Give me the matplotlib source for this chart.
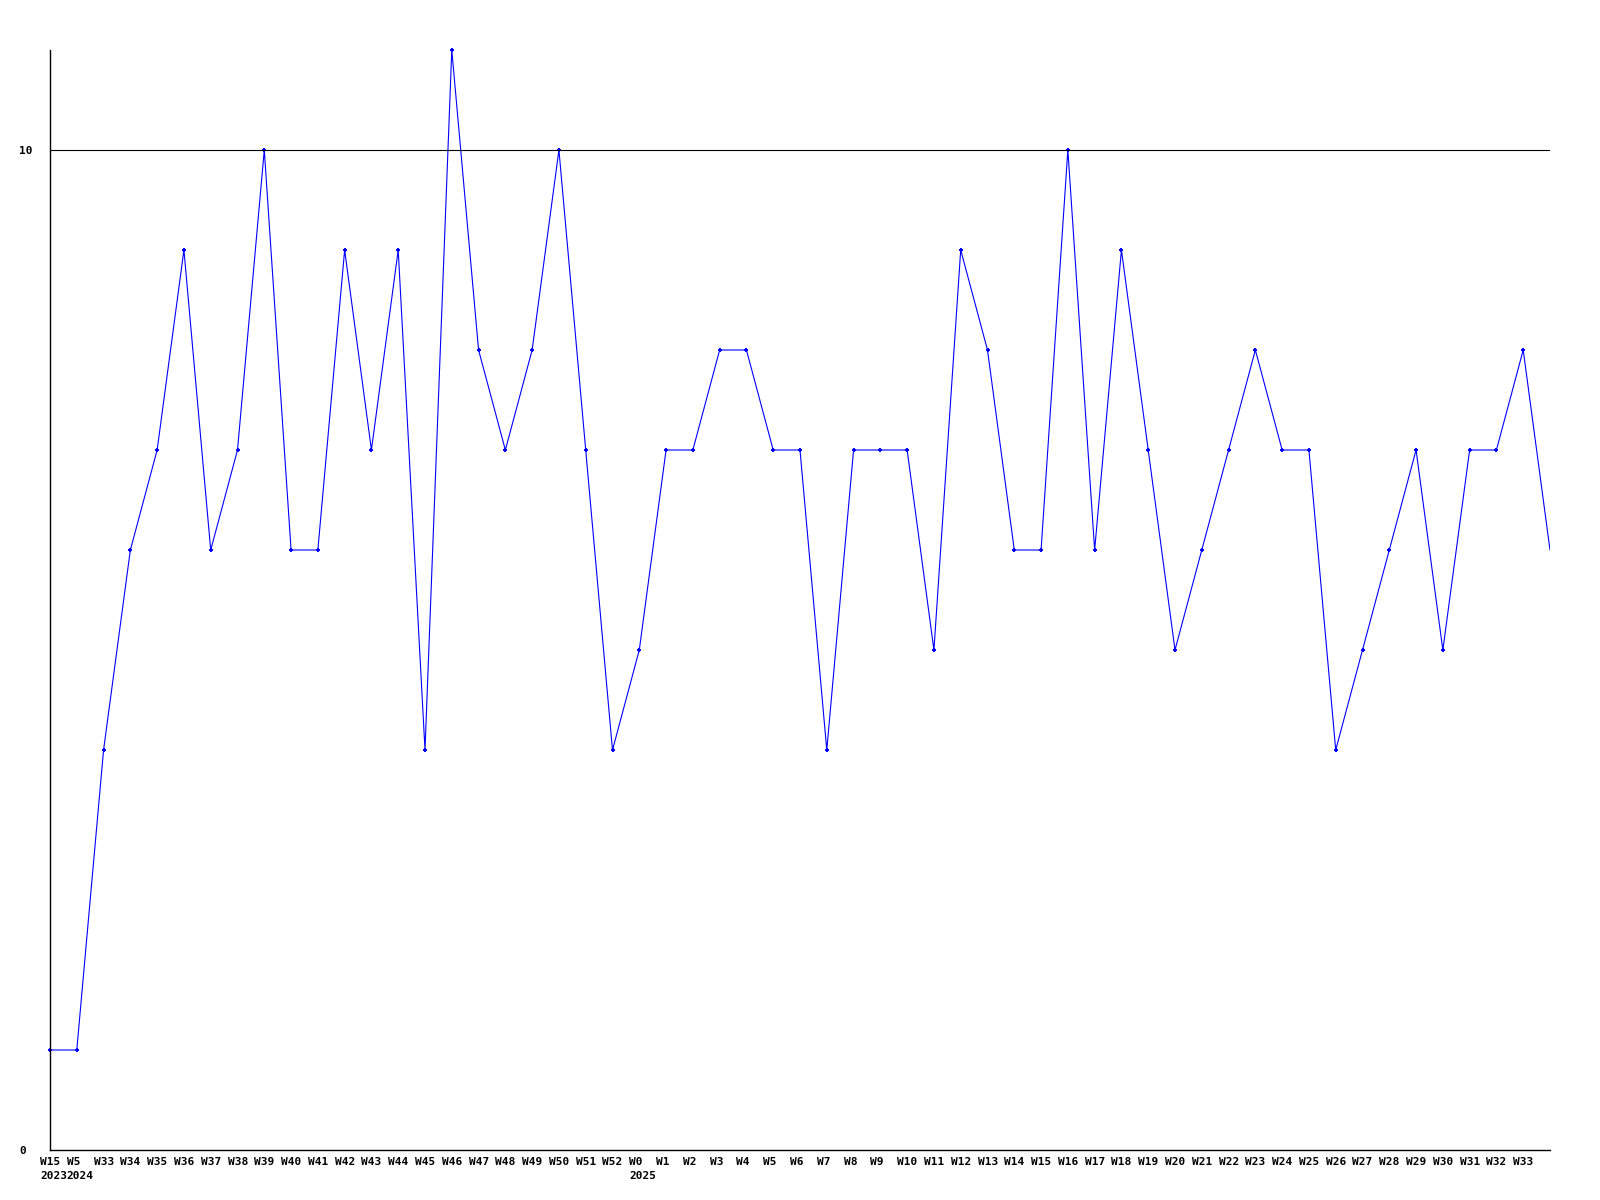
#!/usr/bin/env python
# -*- coding:utf-8 -*-

import matplotlib
matplotlib.use('Agg')
import matplotlib.transforms as mtransforms
from matplotlib import pyplot as plt

# weekly counts, the last point sits on the right edge with no label
week_labels = ['W15\n2023', 'W5\n2024',
               'W33', 'W34', 'W35', 'W36', 'W37', 'W38', 'W39', 'W40',
               'W41', 'W42', 'W43', 'W44', 'W45', 'W46', 'W47', 'W48',
               'W49', 'W50', 'W51', 'W52',
               'W0\n2025', 'W1', 'W2', 'W3', 'W4', 'W5', 'W6', 'W7', 'W8',
               'W9', 'W10', 'W11', 'W12', 'W13', 'W14', 'W15', 'W16', 'W17',
               'W18', 'W19', 'W20', 'W21', 'W22', 'W23', 'W24', 'W25', 'W26',
               'W27', 'W28', 'W29', 'W30', 'W31', 'W32', 'W33']
counts = [1, 1, 4, 6, 7, 9, 6, 7, 10, 6,
          6, 9, 7, 9, 4, 11, 8, 7,
          8, 10, 7, 4,
          5, 7, 7, 8, 8, 7, 7, 4, 7,
          7, 7, 5, 9, 8, 6, 6, 10, 6,
          9, 7, 5, 6, 7, 8, 7, 7, 4,
          5, 6, 7, 5, 7, 7, 8, 6]
y_ticks = [0, 10]
ref_line = 10


def main():
    fig = plt.figure(figsize=(16, 12), dpi=100)
    ax = fig.add_axes([50 / 1600, 50 / 1200, 1500 / 1600, 1100 / 1200])

    x = list(range(len(counts)))
    n_lab = len(week_labels)
    ax.plot(x, counts, color='#0000ff', lw=0.8, clip_on=True)
    ax.plot(x[:n_lab], counts[:n_lab], ls='none', marker='+',
            ms=3.5, mew=1.4, color='#0000ff', clip_on=False)
    ax.axhline(ref_line, color='black', lw=0.8)

    ax.set_xlim(0, len(counts) - 1)
    ax.set_ylim(0, 11)

    for s in ['top', 'right']:
        ax.spines[s].set_visible(False)
    for s in ['left', 'bottom']:
        ax.spines[s].set_linewidth(1.0)

    font = dict(family='DejaVu Sans Mono', weight='bold', size=8)

    # x labels: left aligned, starting 10 px before each point
    ax.set_xticks([])
    offset = mtransforms.ScaledTranslation(-10 / 100, -7 / 100,
                                           fig.dpi_scale_trans)
    trans = ax.get_xaxis_transform() + offset
    for i, lab in enumerate(week_labels):
        ax.text(i, 0, lab, transform=trans, ha='left', va='top',
                linespacing=1.55, clip_on=False, **font)

    ax.set_yticks(y_ticks)
    ax.set_yticklabels([str(v) for v in y_ticks], ha='left', **font)
    ax.tick_params(axis='y', length=0, pad=22)

    fig.savefig('out.png', dpi=100)


if __name__ == '__main__':
    main()
